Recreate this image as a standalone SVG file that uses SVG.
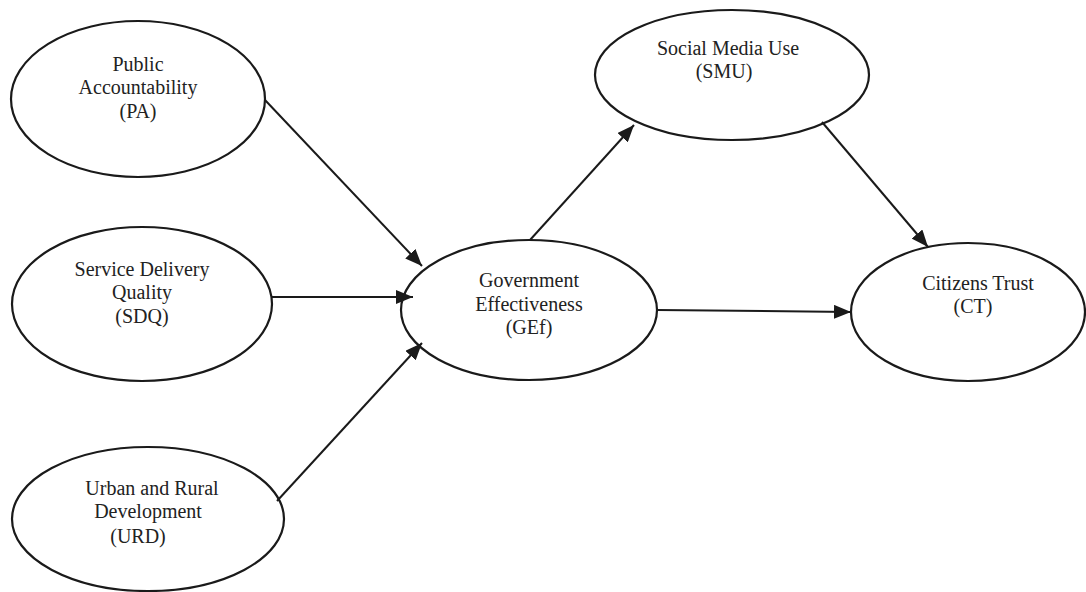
<svg xmlns="http://www.w3.org/2000/svg" width="1086" height="592" viewBox="0 0 1086 592">
<defs>
<style>
.node ellipse{fill:#fff;stroke:#1a1a1a;stroke-width:2.2}
.node text{font-family:'Liberation Serif','Times New Roman','DejaVu Serif',serif;font-size:20px;fill:#222;text-anchor:middle}
.edges line{stroke:#1a1a1a;stroke-width:2;fill:none;marker-end:url(#ah)}
</style>
<marker id="ah" markerUnits="userSpaceOnUse" markerWidth="18" markerHeight="14" refX="17" refY="7" orient="auto">
<path d="M0,0 L17,7 L0,14 z" fill="#1a1a1a"/>
</marker>
</defs>
<rect width="1086" height="592" fill="#fff"/>
<g id="PA" class="node">
<ellipse cx="138" cy="99" rx="127" ry="78"/>
<text x="138" y="71">Public</text>
<text x="138" y="94">Accountability</text>
<text x="138" y="118">(PA)</text>
</g>
<g id="SDQ" class="node">
<ellipse cx="142" cy="304" rx="130" ry="77"/>
<text x="142" y="276">Service Delivery</text>
<text x="142" y="299">Quality</text>
<text x="142" y="323">(SDQ)</text>
</g>
<g id="URD" class="node">
<ellipse cx="148" cy="519" rx="136" ry="72"/>
<text x="152" y="495">Urban and Rural</text>
<text x="148" y="518">Development</text>
<text x="138" y="543">(URD)</text>
</g>
<g id="GEf" class="node">
<ellipse cx="529" cy="310" rx="128" ry="70"/>
<text x="529" y="287">Government</text>
<text x="529" y="311">Effectiveness</text>
<text x="529" y="334">(GEf)</text>
</g>
<g id="SMU" class="node">
<ellipse cx="732" cy="75" rx="137" ry="65"/>
<text x="728" y="55">Social Media Use</text>
<text x="724" y="78">(SMU)</text>
</g>
<g id="CT" class="node">
<ellipse cx="968" cy="312" rx="117" ry="69"/>
<text x="978" y="290">Citizens Trust</text>
<text x="973" y="313">(CT)</text>
</g>
<g id="connectors" class="edges">
<line x1="265" y1="100" x2="422" y2="266"/>
<line x1="272" y1="297" x2="413" y2="297"/>
<line x1="277" y1="501" x2="422" y2="343"/>
<line x1="530" y1="240" x2="634" y2="125"/>
<line x1="822" y1="122" x2="928" y2="247"/>
<line x1="657" y1="310" x2="851" y2="312"/>
</g>
</svg>
